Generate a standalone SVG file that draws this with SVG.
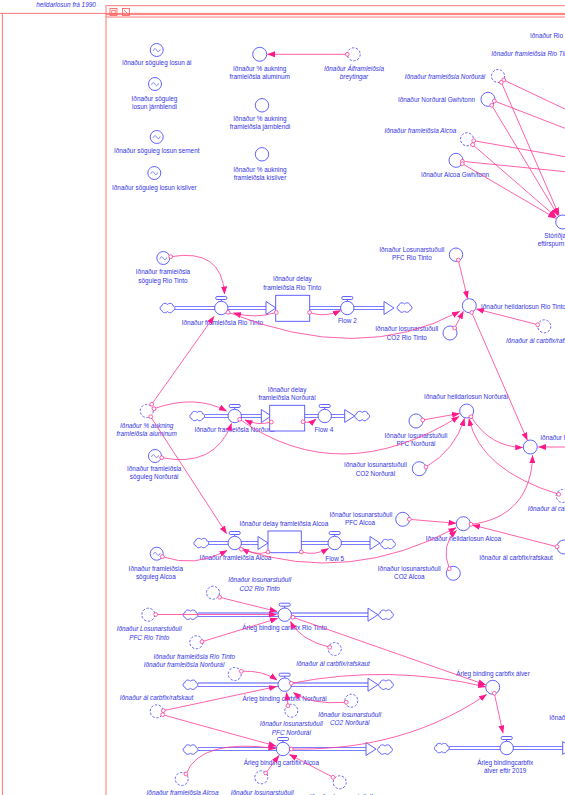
<svg xmlns="http://www.w3.org/2000/svg" xmlns:xlink="http://www.w3.org/1999/xlink" width="565" height="795" viewBox="0 0 565 795">
<style>
.t{font-family:"Liberation Sans",Arial,sans-serif;font-size:6.4px;fill:#3434e6;text-anchor:middle}
.i{font-style:italic}
.st{text-anchor:start}
.en{text-anchor:end}
.c{fill:#fff;stroke:#5050ff;stroke-width:0.9}
.d{fill:none;stroke:#5050ff;stroke-width:0.9;stroke-dasharray:2.4 1.6}
.k{fill:none;stroke:#ff3a96;stroke-width:0.8;marker-start:url(#oc)}
.a{marker-end:url(#ah)}
.po{fill:none;stroke:#5050ff;stroke-width:4.2}
.pi{fill:none;stroke:#fff;stroke-width:2.4}
.fr{fill:none;stroke:#ff5555;stroke-width:0.8}
</style>
<defs>
<marker id="ah" viewBox="0 0 8 6" refX="7.5" refY="3" markerWidth="8" markerHeight="6" orient="auto" markerUnits="userSpaceOnUse"><path d="M0,0 L8,3 L0,6 Z" fill="#ff1a8c"/></marker>
<marker id="oc" viewBox="-3 -3 6 6" refX="0" refY="0" markerWidth="6" markerHeight="6" markerUnits="userSpaceOnUse"><circle r="1.9" fill="#fff" stroke="#ff3a96" stroke-width="0.8"/></marker>
<g id="vl"><path d="M0,-6.7 V-8.6" stroke="#5050ff" stroke-width="0.9"/><rect x="-5.5" y="-11.5" width="11" height="3" rx="1.2" class="c"/><circle r="6.7" class="c"/></g>
<path id="cl" d="M-5.5,2.5 C-8,2.5 -8,-2 -5.5,-2 C-5.5,-4.8 -2,-5.5 0,-3.5 C2,-5.5 5.5,-4.8 5.5,-2 C8,-2 8,2.5 5.5,2.5 C4.5,5.3 1,5.3 0,3.5 C-1.5,5.3 -4.8,5.3 -5.5,2.5 Z" class="c"/>
<g id="lk"><circle r="6.5" class="c"/><path d="M-3.5,0.8 C-2.5,-1.8 -1,-1.8 0,0.2 C1,2.2 2.5,2.2 3.5,-0.6" fill="none" stroke="#5050ff" stroke-width="0.7"/></g>
<polygon id="fa" points="0,-6.5 10,0 0,6.5" class="c"/>
</defs>
<rect width="565" height="795" fill="#fff"/>
<!-- frame -->
<g id="frame">
<path class="fr" d="M0,13.4 H565 M106,14.6 H565 M106,17 H565 M106,795 V5.7 H565 M2.4,13.4 V795" />
<rect x="110" y="8.5" width="7" height="7" class="fr"/><rect x="111.8" y="10.3" width="3.4" height="3.4" class="fr"/>
<rect x="122.5" y="8.5" width="7" height="7" class="fr"/><path d="M124,10 L128,14" class="fr"/>
<text class="t i" x="66" y="6.8">heildarlosun frá 1990</text>
</g>
<!-- pipes -->
<g id="pipes">
<path class="po" d="M175,308 H266 M309.7,308 H384 M204.7,416 H261.3 M304.7,416 H344.7 M208,543 H258 M301.3,543 H370 M198,614.7 H368 M198,684.7 H368 M198,749 H366 M449.3,748 H562.7"/>
<path class="pi" d="M175,308 H266 M309.7,308 H384 M204.7,416 H261.3 M304.7,416 H344.7 M208,543 H258 M301.3,543 H370 M198,614.7 H368 M198,684.7 H368 M198,749 H366 M449.3,748 H562.7"/>
</g>
<!-- top constants -->
<g id="sog_al"><use href="#lk" x="156.7" y="50"/><text class="t" x="156.7" y="64.6">Iðnaður söguleg losun ál</text></g>
<g id="sog_jarn"><use href="#lk" x="155" y="84"/><text class="t" x="154.5" y="100.6">Iðnaður söguleg</text><text class="t" x="154.5" y="109">losun járnblendi</text></g>
<g id="sog_sement"><use href="#lk" x="156.7" y="137"/><text class="t" x="156.7" y="153.3">Iðnaður söguleg losun sement</text></g>
<g id="sog_kisil"><use href="#lk" x="154.3" y="173"/><text class="t" x="154.3" y="189.6">Iðnaður söguleg losun kísilver</text></g>
<g id="auk_al"><circle cx="259.7" cy="54.3" r="7" class="c"/><text class="t" x="259.7" y="71.3">Iðnaður % aukning</text><text class="t" x="259.7" y="79.3">framleiðsla aluminum</text></g>
<g id="alframl"><circle cx="353.7" cy="54.3" r="6.5" class="d"/><text class="t i" x="354" y="71.3">Iðnaður Álframleiðsla</text><text class="t i" x="354" y="79.3">breytingar</text></g>
<g id="auk_jarn"><circle cx="262" cy="105.3" r="6.7" class="c"/><text class="t" x="260" y="121.3">Iðnaður % aukning</text><text class="t" x="260" y="129.3">framleiðsla járnblendi</text></g>
<g id="auk_kisil"><circle cx="262" cy="154.3" r="6.7" class="c"/><text class="t" x="260" y="171.6">Iðnaður % aukning</text><text class="t" x="260" y="179.6">framleiðsla kísilver</text></g>
<!-- top right -->
<g id="rt_gwh"><text class="t st" x="530" y="38.3">Iðnaður Rio Tinto Gwh/tonn</text></g>
<g id="rt_fram"><text class="t i st" x="491.3" y="56.3">Iðnaður framleiðsla Rio Tinto</text></g>
<g id="n_fram"><circle cx="498" cy="76" r="6.5" class="d"/><text class="t i en" x="485.3" y="79">Iðnaður framleiðsla Norðurál</text></g>
<g id="n_gwh"><circle cx="488" cy="99.3" r="7" class="c"/><text class="t en" x="475" y="101.6">Iðnaður Norðurál Gwh/tonn</text></g>
<g id="a_fram"><circle cx="467" cy="139.3" r="6.5" class="d"/><text class="t i en" x="456.3" y="132.6">Iðnaður framleiðsla Alcoa</text></g>
<g id="a_gwh"><circle cx="456" cy="160.3" r="7" class="c"/><text class="t" x="455" y="176.6">Iðnaður Alcoa Gwh/tonn</text></g>
<g id="storidja"><circle cx="562.7" cy="222" r="7" class="c"/><text class="t st" x="544.3" y="238">Stóriðja</text><text class="t st" x="537.7" y="246.3">eftirspurn</text></g>
<!-- Rio Tinto flow -->
<g id="rt_sog"><use href="#lk" x="163.3" y="258"/><text class="t" x="163" y="274.3">Iðnaður framleiðsla</text><text class="t" x="163" y="282.6">söguleg Rio Tinto</text></g>
<g id="rt_src"><use href="#cl" x="167.5" y="308"/></g>
<g id="rt_flow"><use href="#fa" x="266" y="308"/><use href="#vl" x="221.3" y="308"/><text class="t" x="222.3" y="325.3">Iðnaður framleiðsla Rio Tinto</text></g>
<g id="rt_delay"><rect x="275.7" y="295.3" width="34" height="26" class="c"/><text class="t" x="292.3" y="281.3">Iðnaður delay</text><text class="t" x="292.3" y="289.6">framleiðsla Rio Tinto</text></g>
<g id="flow2"><use href="#fa" x="384" y="308"/><use href="#vl" x="347.3" y="308"/><text class="t" x="347.3" y="323">Flow 2</text></g>
<g id="rt_sink"><use href="#cl" x="404.5" y="307.5"/></g>
<g id="rt_pfc"><circle cx="456" cy="254.7" r="6.7" class="c"/><text class="t" x="411.8" y="252">Iðnaður Losunarstuðull</text><text class="t" x="411.8" y="260.3">PFC Rio Tinto</text></g>
<g id="rt_heild"><circle cx="469.3" cy="305.7" r="7" class="c"/><text class="t st" x="481" y="308.6">Iðnaður heildarlosun Rio Tinto</text></g>
<g id="rt_co2"><circle cx="450" cy="333" r="7" class="c"/><text class="t" x="406.8" y="331.3">Iðnaður losunarstuðull</text><text class="t" x="406.8" y="339.6">CO2 Rio Tinto</text></g>
<g id="alcf1"><circle cx="544.3" cy="326.3" r="6.5" class="d"/><text class="t i st" x="506" y="343">Iðnaður ál carbfix/rafskaut</text></g>
<!-- Norðurál flow -->
<g id="auk_al_sh"><circle cx="146.7" cy="411" r="6.5" class="d"/><text class="t i" x="146.7" y="427.6">Iðnaður % aukning</text><text class="t i" x="146.7" y="436">framleiðsla aluminum</text></g>
<g id="n_sog"><use href="#lk" x="155" y="456"/><text class="t" x="154.2" y="471">Iðnaður framleiðsla</text><text class="t" x="154.2" y="479.3">söguleg Norðurál</text></g>
<g id="n_src"><use href="#cl" x="197.2" y="416"/></g>
<g id="n_flow"><use href="#fa" x="261.3" y="416"/><use href="#vl" x="234.7" y="416"/><text class="t" x="234.7" y="431.6">Iðnaður framleiðsla Norðurál</text></g>
<g id="n_delay"><rect x="269.7" y="405.3" width="35" height="25.7" class="c"/><text class="t" x="287" y="392">Iðnaður delay</text><text class="t" x="287" y="399.6">framleiðsla Norðurál</text></g>
<g id="flow4"><use href="#fa" x="344.7" y="416"/><use href="#vl" x="324.7" y="416"/><text class="t" x="323.8" y="432.3">Flow 4</text></g>
<g id="n_sink"><use href="#cl" x="362.2" y="416"/></g>
<g id="n_heild"><circle cx="466.7" cy="411" r="7" class="c"/><text class="t" x="466" y="398.6">Iðnaður heildarlosun Norðurál</text></g>
<g id="n_pfc"><circle cx="416" cy="421" r="7" class="c"/><text class="t" x="416" y="437.6">Iðnaður losunarstuðull</text><text class="t" x="416" y="446">PFC Norðurál</text></g>
<g id="n_co2"><circle cx="419.3" cy="468.7" r="7" class="c"/><text class="t" x="375.4" y="467.3">Iðnaður losunarstuðull</text><text class="t" x="375.4" y="475.6">CO2 Norðurál</text></g>
<g id="heild"><circle cx="530.3" cy="447" r="7" class="c"/><text class="t st" x="540.3" y="440">Iðnaður heildarlosun</text></g>
<g id="alca2"><circle cx="562.7" cy="496" r="6.5" class="d"/><text class="t i st" x="527.7" y="511">Iðnaður ál carbfix/rafskaut</text></g>
<!-- Alcoa flow -->
<g id="a_sog"><use href="#lk" x="156.7" y="553.7"/><text class="t" x="155.8" y="570.6">Iðnaður framleiðsla</text><text class="t" x="155.8" y="579">söguleg Alcoa</text></g>
<g id="a_src"><use href="#cl" x="201.3" y="543"/></g>
<g id="a_flow"><use href="#fa" x="258" y="543"/><use href="#vl" x="234.7" y="543"/><text class="t" x="235.5" y="560">Iðnaður framleiðsla Alcoa</text></g>
<g id="a_delay"><rect x="268" y="531" width="33.3" height="21.7" class="c"/><text class="t" x="283.8" y="526">Iðnaður delay framleiðsla Alcoa</text></g>
<g id="flow5"><use href="#fa" x="370" y="543"/><use href="#vl" x="334.7" y="543"/><text class="t" x="334.7" y="560.6">Flow 5</text></g>
<g id="a_sink"><use href="#cl" x="388" y="544"/></g>
<g id="a_pfc"><circle cx="402.7" cy="519.3" r="7" class="c"/><text class="t" x="361" y="516.6">Iðnaður losunarstuðull</text><text class="t" x="360" y="525">PFC Alcoa</text></g>
<g id="a_heild"><circle cx="463.3" cy="523.7" r="7" class="c"/><text class="t" x="463.5" y="541">Iðnaður heildarlosun Alcoa</text></g>
<g id="alcf3"><circle cx="564" cy="547" r="7" class="c"/><text class="t" x="516" y="560">Iðnaður ál carbfix/rafskaut</text></g>
<g id="a_co2"><circle cx="453.3" cy="573.3" r="7" class="c"/><text class="t" x="409.3" y="571">Iðnaður losunarstuðull</text><text class="t" x="409.3" y="579.3">CO2 Alcoa</text></g>
<!-- carbfix section -->
<g id="cf_rtco2"><circle cx="213" cy="592.7" r="6.5" class="d"/><text class="t i" x="259.7" y="581.6">Iðnaður losunarstuðull</text><text class="t i" x="259.7" y="590.5">CO2 Rio Tinto</text></g>
<g id="cf_rtpfc"><circle cx="148.3" cy="614.7" r="6.5" class="d"/><text class="t i" x="149.2" y="631.3">Iðnaður Losunarstuðull</text><text class="t i" x="149.2" y="639.6">PFC Rio Tinto</text></g>
<g id="cf_rt_src"><use href="#cl" x="190.5" y="614.7"/></g>
<g id="cf_rt"><use href="#fa" x="368" y="614.7"/><use href="#vl" x="284.7" y="614.7"/><text class="t" x="284.7" y="630.3">Árleg binding carbfix Rio Tinto</text></g>
<g id="cf_rt_sink"><use href="#cl" x="386" y="614.7"/></g>
<g id="cf_rtfram"><circle cx="196.3" cy="642.3" r="6.5" class="d"/><text class="t i" x="194.3" y="658.6">Iðnaður framleiðsla Rio Tinto</text></g>
<g id="cf_alcf1"><circle cx="334.7" cy="649" r="6.5" class="d"/><text class="t i" x="333" y="666.3">Iðnaður ál carbfix/rafskaut</text></g>
<g id="cf_nfram"><circle cx="234.7" cy="674" r="6.5" class="d"/><text class="t i" x="184" y="667">Iðnaður framleiðsla Norðurál</text></g>
<g id="cf_n_src"><use href="#cl" x="190.5" y="684.7"/></g>
<g id="cf_n"><use href="#fa" x="368" y="684.7"/><use href="#vl" x="284.7" y="684.7"/><text class="t" x="284.7" y="701.3">Árleg binding carbfix Norðurál</text></g>
<g id="cf_n_sink"><use href="#cl" x="386" y="684.7"/></g>
<g id="cf_alcf2"><circle cx="156.7" cy="711.3" r="6.5" class="d"/><text class="t i" x="156.5" y="699.6">Iðnaður ál carbfix/rafskaut</text></g>
<g id="cf_npfc"><circle cx="291.3" cy="710.7" r="6.5" class="d"/><text class="t i" x="291.3" y="726.3">Iðnaður losunarstuðull</text><text class="t i" x="291.3" y="734.6">PFC Norðurál</text></g>
<g id="cf_nco2"><circle cx="351.3" cy="700.7" r="6.5" class="d"/><text class="t i" x="349.7" y="717">Iðnaður losunarstuðull</text><text class="t i" x="349.7" y="725">CO2 Norðurál</text></g>
<g id="cf_alver"><circle cx="492.7" cy="687.3" r="7" class="c"/><text class="t" x="493" y="676.3">Árleg binding carbfix álver</text></g>
<g id="cf_a_src"><use href="#cl" x="190.5" y="749.5"/></g>
<g id="cf_a"><use href="#fa" x="366" y="749"/><use href="#vl" x="283" y="749"/><text class="t" x="281.3" y="765.3">Árleg binding carbfix Alcoa</text></g>
<g id="cf_a_sink"><use href="#cl" x="385" y="749.5"/></g>
<g id="cf_afram"><circle cx="181.7" cy="779" r="6.5" class="d"/><text class="t i" x="182.5" y="794.6">Iðnaður framleiðsla Alcoa</text></g>
<g id="cf_aco2"><circle cx="261.3" cy="777.3" r="6.5" class="d"/><text class="t i" x="262.2" y="795.3">Iðnaður losunarstuðull</text></g>
<g id="cf_apfc"><circle cx="339.7" cy="782.3" r="6.5" class="d"/><text class="t i" x="341" y="798.5">Iðnaður losunarstuðull</text></g>
<g id="alver2019_src"><use href="#cl" x="441.8" y="748"/></g>
<g id="alver2019"><use href="#fa" x="562.7" y="748"/><use href="#vl" x="506.7" y="748"/><text class="t" x="505.2" y="764.6">Árleg bindingcarbfix</text><text class="t" x="505.2" y="773">álver eftir 2019</text></g>
<g id="los_r"><text class="t st" x="549.3" y="720.3">Iðnaður losunarstuðull</text></g>
<!-- connectors -->
<g id="connectors">
<path class="k a" d="M347.3,54.3 L267.5,54.3"/>
<path class="k" d="M503.7,80 L600,125.6"/>
<path class="k a" d="M501.3,82.3 L559,215.1"/>
<path class="k" d="M494.3,101 L600,141.8"/>
<path class="k a" d="M491.7,105.3 L558.1,215.6"/>
<path class="k" d="M473.7,140.7 L600,162.8"/>
<path class="k a" d="M472.7,144.7 L556.3,217.1"/>
<path class="k" d="M462.3,161.3 L600,175.2"/>
<path class="k a" d="M462.3,163.7 L555.5,218.2"/>
<path class="k a" d="M170.7,256.7 Q222,248 224.5,294"/>
<path class="k a" d="M151.7,404.3 L214,316.5"/>
<path class="k a" d="M276.3,312.5 Q255,319 233.5,313"/>
<path class="k a" d="M309.5,312.5 Q325,318 340.5,310.5"/>
<path class="k a" d="M228,312.3 Q360,365 459.5,311.5"/>
<path class="k a" d="M458.3,260 L467.5,298.4"/>
<path class="k a" d="M454.7,328 L463.3,311.5"/>
<path class="k a" d="M537.7,324.7 L476.5,309"/>
<path class="k a" d="M471.7,312.5 L527.3,440.1"/>
<path class="k a" d="M154,408.7 Q195,394 226.5,411"/>
<path class="k a" d="M161.7,457.7 Q215,468 231.5,423.5"/>
<path class="k a" d="M271.3,422 Q258,426 245,420"/>
<path class="k a" d="M303,421.7 Q310,424 316,419"/>
<path class="k a" d="M239.7,419.3 Q340,490 459,416.5"/>
<path class="k a" d="M422.7,420 L459.5,413.5"/>
<path class="k a" d="M426,467 Q455,450 464.5,418.5"/>
<path class="k a" d="M558.7,494.3 Q480,470 469,418.5"/>
<path class="k a" d="M471,416.7 Q490,447 522.8,447.5"/>
<path class="k a" d="M150.7,416.7 L226.5,533.5"/>
<path class="k a" d="M162.3,556.7 Q195,568 227,550.5"/>
<path class="k a" d="M268,552 Q255,556 242,548.5"/>
<path class="k a" d="M301.3,552 Q315,556 328.5,548.5"/>
<path class="k a" d="M241.3,549.3 Q350,585 456,527.8"/>
<path class="k a" d="M409.3,519.3 L456,523.3"/>
<path class="k a" d="M449.3,568.7 Q440,545 456.5,530.5"/>
<path class="k a" d="M557,546.7 L472.5,525"/>
<path class="k a" d="M471,524.3 C510,520 532,495 532.5,455.5"/>
<path class="k a" d="M600,447 L538.5,447"/>
<path class="k a" d="M155.7,614.5 L276.5,614.5"/>
<path class="k a" d="M219.7,597.3 L277,611.5"/>
<path class="k a" d="M202,641.7 L277.5,618.5"/>
<path class="k a" d="M329.7,647.3 Q300,640 290.5,621.5"/>
<path class="k a" d="M293,617.3 L485.6,684.8"/>
<path class="k a" d="M241.3,671.3 Q262,670 277,680"/>
<path class="k a" d="M163.3,710.7 L276.5,686.5"/>
<path class="k a" d="M288,705.7 L286.5,692.5"/>
<path class="k a" d="M346.3,702.3 Q310,705 293.5,692.5"/>
<path class="k a" d="M291.3,683.3 Q390,664 485.5,686.8"/>
<path class="k a" d="M162.7,714.7 Q210,728 276,746"/>
<path class="k a" d="M186,774 Q200,738 276,748.5"/>
<path class="k a" d="M265.7,773 L279,755.5"/>
<path class="k a" d="M333,777.3 L289.5,754.5"/>
<path class="k a" d="M291.3,749 C350,750 420,740 486.5,694.5"/>
<path class="k a" d="M494.3,693.3 L503,733"/>
</g>
</svg>
